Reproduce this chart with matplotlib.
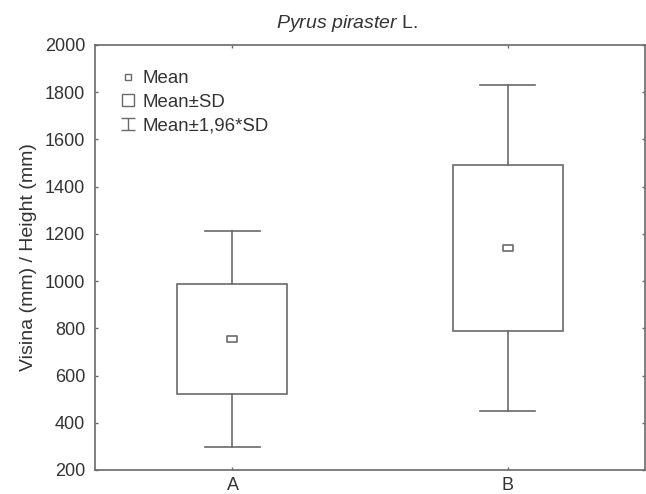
import matplotlib
matplotlib.use("Agg")
import matplotlib.pyplot as plt
from matplotlib.lines import Line2D
from matplotlib.patches import Rectangle
from matplotlib.path import Path

plt.rcParams['font.family'] = ['Liberation Sans', 'DejaVu Sans']
plt.rcParams['mathtext.fontset'] = 'custom'
plt.rcParams['mathtext.it'] = 'Liberation Sans:italic'
plt.rcParams['mathtext.rm'] = 'Liberation Sans'

groups = ["A", "B"]
means = [755, 1139]
sds = [233, 352]
yticks = [200, 400, 600, 800, 1000, 1200, 1400, 1600, 1800, 2000]

gray = '#6a6a6a'
txt = '#333333'
lw = 1.2
fs = 13

fig = plt.figure(figsize=(6.46, 4.94), dpi=100)
ax = fig.add_axes([0.147, 0.0486, 0.8515, 0.8604])

# flat little rectangle used for the mean point
mean_mark = Path([(-1, -0.65), (1, -0.65), (1, 0.65), (-1, 0.65), (-1, -0.65)],
                 [Path.MOVETO, Path.LINETO, Path.LINETO, Path.LINETO, Path.CLOSEPOLY])

for i, (m, s) in enumerate(zip(means, sds)):
    x = i + 1
    lo, hi = m - s, m + s
    wlo, whi = m - 1.96 * s, m + 1.96 * s
    ax.add_patch(Rectangle((x - 0.2, lo), 0.4, hi - lo, fill=False,
                           edgecolor=gray, lw=lw, zorder=2))
    ax.plot([x, x], [hi, whi], color=gray, lw=lw)
    ax.plot([x, x], [wlo, lo], color=gray, lw=lw)
    ax.plot([x - 0.1, x + 0.1], [whi, whi], color=gray, lw=lw)
    ax.plot([x - 0.1, x + 0.1], [wlo, wlo], color=gray, lw=lw)
    ax.plot([x], [m], marker=mean_mark, markersize=7.5, markerfacecolor='white',
            markeredgecolor=gray, markeredgewidth=lw, zorder=3)

ax.set_xlim(0.5, 2.5)
ax.set_ylim(200, 2000)
ax.set_xticks([1, 2])
ax.set_xticklabels(groups)
ax.set_yticks(yticks)
ax.tick_params(direction='in', length=2, width=1, color=gray,
               labelsize=fs, labelcolor=txt, top=True, right=True)
ax.tick_params(axis='y', pad=7)
ax.tick_params(axis='x', pad=5)
for sp in ax.spines.values():
    sp.set_color(gray)
    sp.set_linewidth(lw)

ax.set_ylabel("Visina (mm) / Height (mm)", fontsize=14, color=txt, labelpad=6)
ax.set_title(r"$\it{Pyrus\ piraster}$ L.", fontsize=14, color=txt, pad=12, x=0.458)

# "I" shaped marker for the 1.96*SD whisker entry
cap = Path([(-0.8, 0.75), (0.8, 0.75), (0, 0.75), (0, -0.75), (-0.8, -0.75), (0.8, -0.75)],
           [Path.MOVETO, Path.LINETO, Path.MOVETO, Path.LINETO,
            Path.MOVETO, Path.LINETO])
handles = [
    Line2D([], [], ls='none', marker='s', markersize=5, markerfacecolor='white',
           markeredgecolor=gray, markeredgewidth=1),
    Line2D([], [], ls='none', marker='s', markersize=8.5, markerfacecolor='white',
           markeredgecolor=gray, markeredgewidth=1),
    Line2D([], [], ls='none', marker=cap, markersize=9.5, markerfacecolor='none',
           markeredgecolor=gray, markeredgewidth=1),
]
labels = ["Mean", "Mean±SD", "Mean±1,96*SD"]
leg = ax.legend(handles, labels, loc='upper left', frameon=False, fontsize=13.4,
                handlelength=0.8, handletextpad=0.4, labelspacing=0.36,
                borderaxespad=0.95)
for t in leg.get_texts():
    t.set_color(txt)

fig.savefig("out.png", dpi=100)
